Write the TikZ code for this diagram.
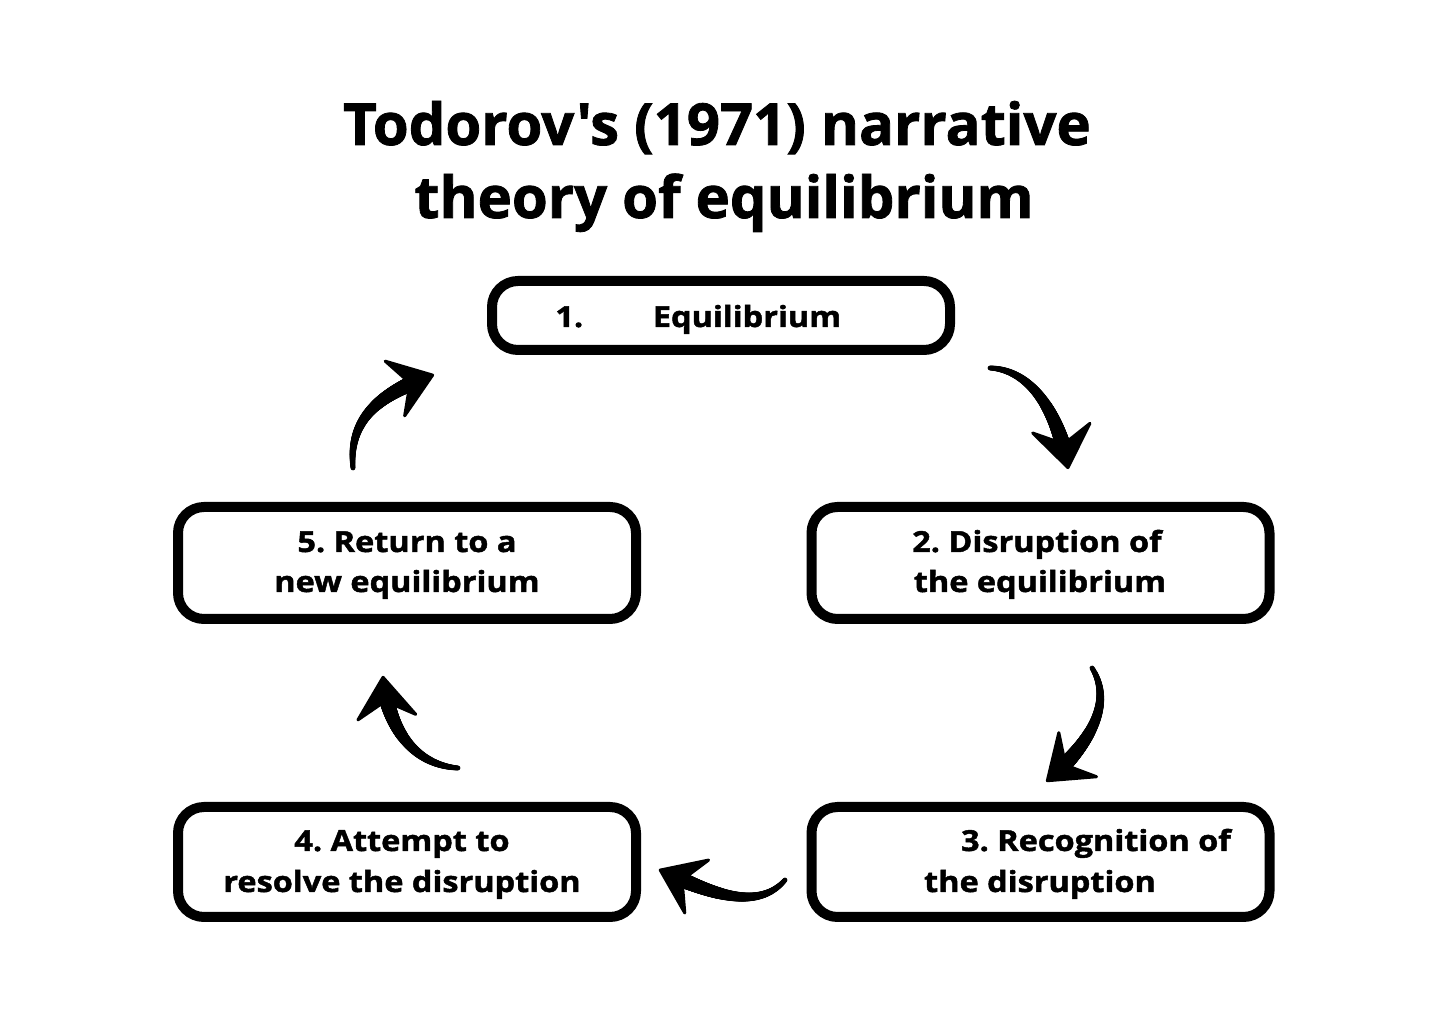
\documentclass[tikz,border=0pt]{standalone}
\usepackage{fontspec}
\setmainfont{Open Sans}[Ligatures=TeXOff]
\newfontfamily\heavy{Open Sans}[Ligatures=TeXOff, BoldFeatures={FakeBold=1.6,FakeStretch=1.12}]
\newfontfamily\heavyttl{Open Sans}[Ligatures=TeXOff, BoldFeatures={FakeBold=1.4}]
\usetikzlibrary{decorations.markings}
\frenchspacing
\begin{document}
\frenchspacing
\begin{tikzpicture}[x=0.5pt,y=-0.5pt,
  box/.style={draw, line width=5pt, rounded corners=13pt, inner sep=0pt},
  lbl/.style={anchor=base, font=\heavy\fontsize{14.5}{17}\selectfont\bfseries, inner sep=0pt},
  ttl/.style={anchor=base, font=\heavyttl\fontsize{29}{36}\selectfont\bfseries, inner sep=0pt},
  brush/.style={decoration={markings,
     mark=between positions 0 and 0.85 step 0.004 with {\pgfmathsetmacro\rr{1.2+3.2*\pgfkeysvalueof{/pgf/decoration/mark info/distance from start}/\pgfdecoratedpathlength}\fill (0pt,0pt) circle (\rr pt);},
     mark=at position 1 with {\fill[line join=round, draw, line width=1.5pt] (0pt,0pt) -- (-20pt,14.5pt) -- (-12pt,0pt) -- (-20pt,-14.5pt) -- cycle;}},
   postaction={decorate}}
]
\useasboundingbox[fill=white] (0,0) rectangle (1448,1026);

% title
\node[ttl] (t1) at (717,145) {Todorov's (1971) narrative};
\node[ttl] (t2) at (724,218) {theory of equilibrium};

% boxes
\node[box, minimum width=229pt, minimum height=34.5pt] (b1) at (721,315.5) {};
\node[box, minimum width=229pt, minimum height=56pt] (b5) at (407,563) {};
\node[box, minimum width=229pt, minimum height=56pt] (b2) at (1040.5,563) {};
\node[box, minimum width=229pt, minimum height=55pt] (b4) at (407,862) {};
\node[box, minimum width=229pt, minimum height=55pt] (b3) at (1040.5,862) {};

% labels
\node[lbl, anchor=base west] (l1a) at (555,327) {1.};
\node[lbl] (l1b) at (747,327) {Equilibrium};
\node[lbl] (l2a) at (1037,552) {2. Disruption of};
\node[lbl] (l2b) at (1040,592) {the equilibrium};
\node[lbl] (l5a) at (407,552) {5. Return to a};
\node[lbl] (l5b) at (407,592) {new equilibrium};
\node[lbl] (l4a) at (402,851) {4. Attempt to};
\node[lbl] (l4b) at (402,892) {resolve the disruption};
\node[lbl] (l3a) at (1096,851) {3. Recognition of};
\node[lbl] (l3b) at (1040,892) {the disruption};

% arrow end points
\coordinate (a1s) at (990,368);  \coordinate (a1e) at (1068,468);
\coordinate (a2s) at (1092,668); \coordinate (a2e) at (1047,781);
\coordinate (a3s) at (785,880);  \coordinate (a3e) at (660,870);
\coordinate (a4s) at (458,768);  \coordinate (a4e) at (383,677);
\coordinate (a5s) at (353,468);  \coordinate (a5e) at (433,375);

\path[brush] (a1s) .. controls (1035,370) and (1060,420) .. (a1e);
\path[brush] (a2s) .. controls (1112,700) and (1095,740) .. (a2e);
\path[brush] (a3s) .. controls (755,915) and (700,888) .. (a3e);
\path[brush] (a4s) .. controls (415,765) and (388,730) .. (a4e);
\path[brush] (a5s) .. controls (348,415) and (385,392) .. (a5e);
\end{tikzpicture}
\end{document}
